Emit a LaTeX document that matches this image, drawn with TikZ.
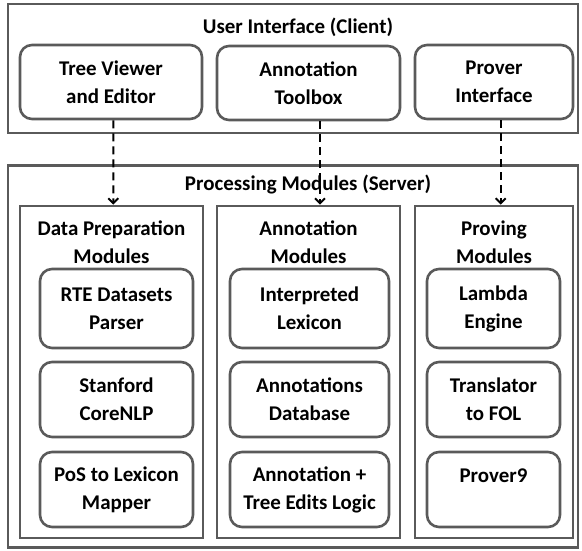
\documentclass[tikz,border=0pt]{standalone}
\usepackage{fontspec}
\setmainfont{Carlito}
\usetikzlibrary{arrows.meta}
\definecolor{bordergray}{HTML}{5A5A5A}
\begin{document}
\begin{tikzpicture}[x=1bp,y=-1bp,
  txt/.style={font=\bfseries\fontsize{21}{28}\selectfont, align=center, text=black, inner sep=0},
  frame/.style={draw=bordergray, line width=2.6bp, inner sep=0},
  rbox/.style={draw=bordergray, line width=2.6bp, rounded corners=12bp, inner sep=0, txt},
  arr/.style={line width=2bp, dash pattern=on 8bp off 5bp, -{Straight Barb[length=5bp,width=10bp,line width=2bp]}}
]
\useasboundingbox (0,0) rectangle (582,551);
% User interface
\node[frame, minimum width=570bp, minimum height=129bp] (ui) at (293,68.5) {};
\node[txt] (uit) at (298,27) {User Interface (Client)};
\node[rbox, minimum width=182bp, minimum height=74bp] (tree) at (111,82) {Tree Viewer\\and Editor};
\node[rbox, minimum width=183bp, minimum height=74bp] (tool) at (308.5,83) {Annotation\\Toolbox};
\node[rbox, minimum width=158bp, minimum height=74bp] (prov) at (494,82) {Prover\\Interface};
% Processing
\node[frame, minimum width=570bp, minimum height=382bp] (proc) at (293,356.5) {};
\node[txt] (proct) at (308,185) {Processing Modules (Server)};
\node[frame, minimum width=183bp, minimum height=332bp] (dp) at (111.5,372) {};
\node[frame, minimum width=183bp, minimum height=332bp] (am) at (308.5,372) {};
\node[frame, minimum width=158bp, minimum height=332bp] (pm) at (494,372) {};
\node[txt] (dpt) at (111.5,242) {Data Preparation\\Modules};
\node[txt] (amt) at (308.5,242) {Annotation\\Modules};
\node[txt] (pmt) at (494,242) {Proving\\Modules};
% Data preparation inner
\node[rbox, minimum width=153bp, minimum height=79bp] (rte) at (116.5,308.5) {RTE Datasets\\Parser};
\node[rbox, minimum width=153bp, minimum height=75bp] (stan) at (116.5,399.5) {Stanford\\CoreNLP};
\node[rbox, minimum width=153bp, minimum height=75bp] (pos) at (116.5,489.5) {PoS to Lexicon\\Mapper};
% Annotation inner
\node[rbox, minimum width=159bp, minimum height=79bp] (lex) at (309.5,308.5) {Interpreted\\Lexicon};
\node[rbox, minimum width=159bp, minimum height=75bp] (db) at (309.5,399.5) {Annotations\\Database};
\node[rbox, minimum width=159bp, minimum height=75bp] (logic) at (309.5,489.5) {Annotation +\\Tree Edits Logic};
% Proving inner
\node[rbox, minimum width=133bp, minimum height=79bp] (lam) at (493.5,308.5) {Lambda\\Engine};
\node[rbox, minimum width=133bp, minimum height=75bp] (fol) at (493.5,399.5) {Translator\\to FOL};
\node[rbox, minimum width=133bp, minimum height=75bp] (p9) at (493.5,489.5) {};
\node[txt, anchor=base] (p9t) at (493.5,482) {Prover9};
% arrows
\draw[arr] ([xshift=2.3bp]tree.south) -- ([xshift=1.8bp]dp.north);
\draw[arr] ([xshift=11.5bp]tool.south) -- ([xshift=11.5bp]am.north);
\draw[arr] ([xshift=6.7bp]prov.south) -- ([xshift=6.7bp]pm.north);
\end{tikzpicture}
\end{document}
